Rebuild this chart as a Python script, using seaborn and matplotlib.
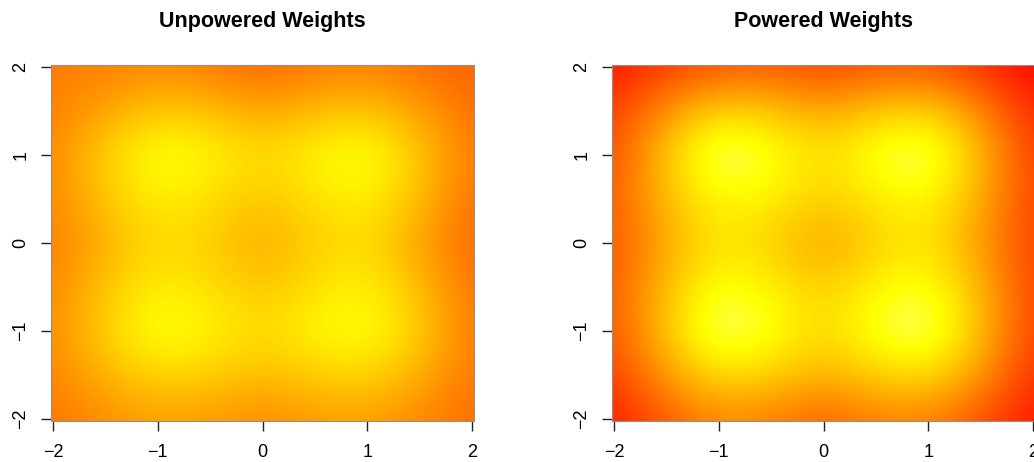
import matplotlib
matplotlib.use("Agg")
import matplotlib.pyplot as plt
import matplotlib.colors as mcolors
import seaborn as sns
import numpy as np

sns.set_style("white")
plt.rcParams['font.family'] = ['Liberation Sans', 'DejaVu Sans']
plt.rcParams['text.color'] = 'black'

# grid positions (data units) of the estimated values
grid_x = [-2, -1.5, -1, -0.5, 0, 0.5, 1, 1.5, 2]
grid_y = [2, 1.5, 1, 0.5, 0, -0.5, -1, -1.5, -2]   # rows, top to bottom

# weight surface, on a 0 (red) .. 1 (white) heat scale
unpowered = [
    [0.37, 0.37, 0.41, 0.36, 0.30, 0.36, 0.38, 0.32, 0.29],
    [0.37, 0.49, 0.59, 0.57, 0.49, 0.55, 0.59, 0.48, 0.33],
    [0.40, 0.62, 0.79, 0.73, 0.64, 0.73, 0.79, 0.59, 0.36],
    [0.40, 0.58, 0.71, 0.66, 0.57, 0.66, 0.72, 0.56, 0.33],
    [0.37, 0.52, 0.65, 0.60, 0.50, 0.60, 0.65, 0.48, 0.31],
    [0.40, 0.58, 0.71, 0.66, 0.57, 0.67, 0.72, 0.56, 0.34],
    [0.41, 0.62, 0.79, 0.73, 0.64, 0.73, 0.78, 0.61, 0.36],
    [0.39, 0.53, 0.63, 0.61, 0.55, 0.61, 0.63, 0.52, 0.35],
    [0.34, 0.42, 0.47, 0.45, 0.41, 0.45, 0.47, 0.40, 0.32],
]
powered = [
    [0.07, 0.18, 0.25, 0.26, 0.20, 0.25, 0.25, 0.14, 0.02],
    [0.18, 0.44, 0.64, 0.59, 0.50, 0.59, 0.64, 0.42, 0.12],
    [0.24, 0.59, 0.90, 0.79, 0.65, 0.80, 0.88, 0.55, 0.18],
    [0.26, 0.56, 0.74, 0.71, 0.60, 0.69, 0.75, 0.51, 0.19],
    [0.26, 0.50, 0.68, 0.61, 0.47, 0.61, 0.68, 0.46, 0.19],
    [0.26, 0.56, 0.79, 0.71, 0.60, 0.73, 0.79, 0.54, 0.19],
    [0.26, 0.59, 0.89, 0.79, 0.63, 0.80, 0.89, 0.57, 0.19],
    [0.19, 0.46, 0.66, 0.61, 0.53, 0.61, 0.66, 0.46, 0.14],
    [0.09, 0.27, 0.40, 0.375, 0.28, 0.375, 0.375, 0.24, 0.07],
]
titles = ["Unpowered Weights", "Powered Weights"]
ticks = [-2, -1, 0, 1, 2]

# R-style heat.colors: red -> yellow by hue, then yellow -> white by saturation
n = 256
j = n // 4
i = n - j
hsv = np.zeros((n, 3))
hsv[:i, 0] = np.linspace(0, 1 / 6, i)
hsv[:i, 1] = 1
hsv[i:, 0] = 1 / 6
hsv[i:, 1] = np.linspace(1 - 1 / (2 * j), 1 / (2 * j), j)
hsv[:, 2] = 1
heat = mcolors.ListedColormap(mcolors.hsv_to_rgb(hsv))

W, H = 1034, 462
fig = plt.figure(figsize=(W / 100, H / 100), dpi=100)
lefts = [51, 612]
step = 0.5
lim = 2.02
for left, z, title in zip(lefts, [unpowered, powered], titles):
    ax = fig.add_axes([left / W, (H - 421) / H, 423 / W, 356 / H])
    # cell centres sit on the grid points
    ax.imshow(np.array(z), cmap=heat, vmin=0, vmax=1, interpolation="bicubic",
              extent=[grid_x[0] - step / 2, grid_x[-1] + step / 2,
                      grid_y[-1] - step / 2, grid_y[0] + step / 2],
              aspect="auto")
    ax.set_xlim(-lim, lim)
    ax.set_ylim(-lim, lim)
    ax.set_xticks(ticks)
    ax.set_yticks(ticks)
    ax.set_xticklabels(["\u22122", "\u22121", "0", "1", "2"])
    ax.set_yticklabels(["\u22122", "\u22121", "0", "1", "2"], rotation=90, va="center")
    ax.tick_params(axis="both", direction="out", length=7.5, width=1, color="#222222",
                   labelsize=13, labelcolor="black", bottom=True, left=True)
    ax.tick_params(axis="x", pad=9)
    ax.tick_params(axis="y", pad=8)
    for sp in ax.spines.values():
        sp.set_color("#909090")
        sp.set_linewidth(0.8)
    fig.text((left + 211) / W, 1 - 21 / H, title, ha="center", va="center",
             fontsize=15.5, fontweight="bold", color="black")

fig.savefig("out.png", dpi=100)
